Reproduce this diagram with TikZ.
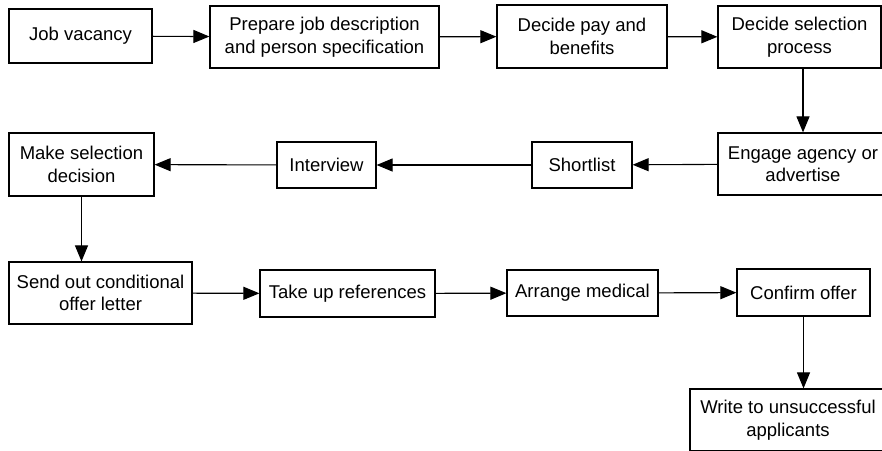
\documentclass[tikz,border=0pt]{standalone}
\usepackage{fontspec}
\setmainfont{Liberation Sans}
\usetikzlibrary{arrows.meta}

\tikzset{
  stepbox/.style={draw, line width=1.2pt, align=center, inner sep=0pt,
    font=\fontsize{18.5}{22.5}\selectfont},
}

\begin{document}
\begin{tikzpicture}[x=1pt, y=-1pt, >={Triangle[length=16pt,width=13pt]}, ->, line width=1.1pt]
    \useasboundingbox (0,0) rectangle (882,450);

    % first row
    \node[stepbox, minimum width=143pt, minimum height=54pt](jobvac) at (80.5,36) {Job vacancy};
    \node[stepbox, minimum width=229pt, minimum height=62pt](prep) at (324.5,37) {Prepare job description\\and person specification};
    \node[stepbox, minimum width=170pt, minimum height=63pt](pay) at (582,36.5) {Decide pay and\\benefits};
    \node[stepbox, minimum width=163pt, minimum height=62pt](selproc) at (799.5,37) {Decide selection\\process};

    % second row
    \node[stepbox, minimum width=170pt, minimum height=62pt](engage) at (803,164) {Engage agency or\\advertise};
    \node[stepbox, minimum width=100pt, minimum height=46pt](short) at (582,165) {Shortlist};
    \node[stepbox, minimum width=99pt, minimum height=46pt](interv) at (326.5,165) {Interview};
    \node[stepbox, minimum width=145pt, minimum height=63pt](decide) at (81.5,164.5) {Make selection\\decision};

    % third row
    \node[stepbox, minimum width=183pt, minimum height=62pt](offer) at (100.5,293) {Send out conditional\\offer letter};
    \node[stepbox, minimum width=175pt, minimum height=47pt](refs) at (347.5,293.5) {Take up references};
    \node[stepbox, minimum width=151pt, minimum height=46pt](medical) at (582.5,293) {Arrange medical};
    \node[stepbox, minimum width=133pt, minimum height=47pt](confirm) at (803.5,292.5) {Confirm offer};
    \node[stepbox, minimum width=196pt, minimum height=62pt](unsucc) at (788,420) {Write to unsuccessful\\applicants};

    \draw(jobvac)--(prep);
    \draw(prep)--(pay);
    \draw(pay)--(selproc);
    \draw(engage.north |- selproc.south)--(engage.north);
    \draw(engage)--(short);
    \draw(short)--(interv);
    \draw(interv)--(decide);
    \draw(decide.south)--(decide.south |- offer.north);
    \draw(offer)--(refs);
    \draw(refs)--(medical);
    \draw(medical)--(confirm);
    \draw(confirm.south)--(confirm.south |- unsucc.north);
\end{tikzpicture}
\end{document}
